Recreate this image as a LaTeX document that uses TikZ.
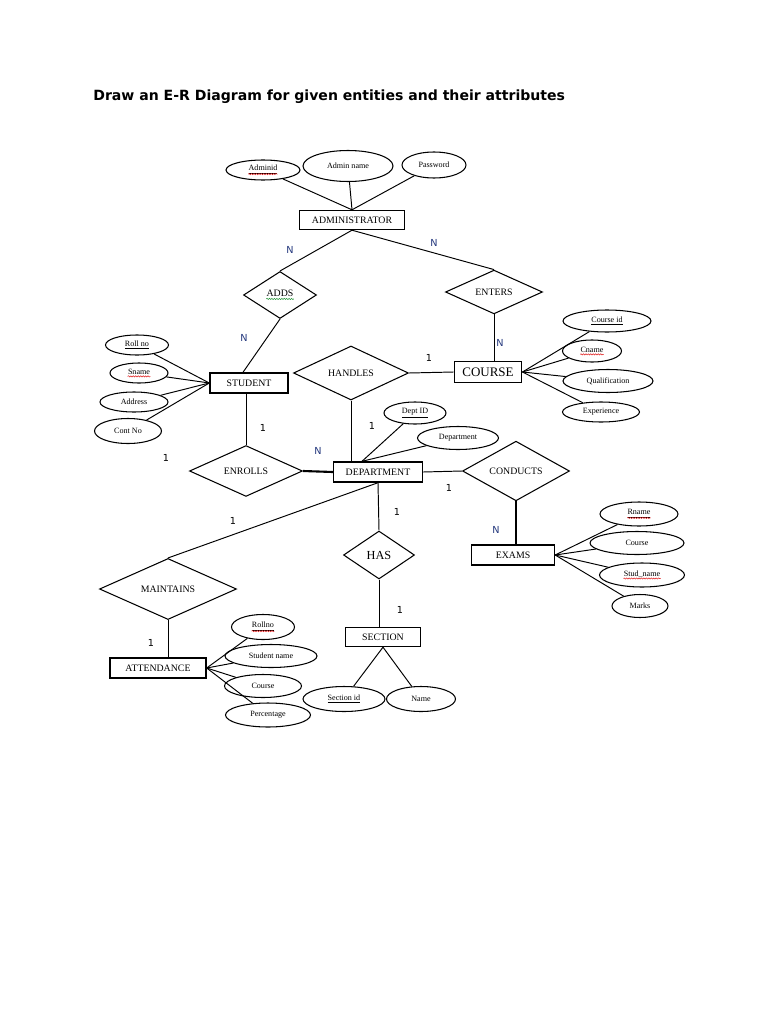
\documentclass[tikz,border=0pt]{standalone}
\usepackage{fontspec}
\setmainfont{Liberation Serif}
\newfontfamily\titlefont{DejaVu Sans}
\usetikzlibrary{shapes.geometric,decorations.pathmorphing}
\definecolor{CardBlue}{RGB}{35,55,125}
\definecolor{WaveRed}{RGB}{225,35,35}
\definecolor{WaveGreen}{RGB}{40,150,60}

\tikzset{
  entity/.style={draw, line width=0.8pt, inner sep=0pt, font=\fontsize{5.6}{6}\selectfont},
  relation/.style={draw, diamond, line width=0.6pt, inner sep=0pt, font=\fontsize{5.6}{6}\selectfont},
  attr/.style={draw, ellipse, line width=0.6pt, inner sep=0pt, font=\fontsize{4.6}{5}\selectfont},
  card/.style={font=\titlefont\fontsize{5.5}{6}\selectfont, inner sep=0pt},
  link/.style={line width=0.55pt},
  boldlink/.style={line width=1.2pt}
}
\newcommand{\wavy}[3][1.3pt]{\tikz[baseline=(w.base)]{\node[shape=rectangle, draw=none, fill=none, inner sep=0pt, minimum size=0pt] (w) {#3};
  \draw[#2, line width=0.3pt, decorate, decoration={snake, amplitude=0.35pt, segment length=1.4pt}]
    ([yshift=-#1]w.base west) -- ([yshift=-#1]w.base east);}}

\begin{document}
\begin{tikzpicture}[x=0.02cm, y=-0.02cm]
\fill[white] (0,0) rectangle (768,1024);
\useasboundingbox (0,0) rectangle (768,1024);

\node[anchor=base west, inner sep=0pt, font=\titlefont\bfseries\fontsize{8}{10}\selectfont] (title) at (93,101)
  {Draw an E-R Diagram for given entities and their attributes};

% entities
\node[entity, minimum width=2.1cm, minimum height=0.38cm] (admin) at (352,220) {ADMINISTRATOR};
\node[entity, minimum width=1.56cm, minimum height=0.40cm] (student) at (249,383) {STUDENT};
\node[entity, line width=1.1pt, minimum width=1.34cm, minimum height=0.42cm, font=\fontsize{7.4}{8}\selectfont] (course) at (488,372) {COURSE};
\node[entity, minimum width=1.78cm, minimum height=0.40cm] (dept) at (378,472) {DEPARTMENT};
\node[entity, minimum width=1.66cm, minimum height=0.40cm] (exams) at (513,555) {EXAMS};
\node[entity, minimum width=1.5cm, minimum height=0.38cm] (section) at (383,637) {SECTION};
\node[entity, minimum width=1.92cm, minimum height=0.40cm] (attend) at (158,668) {ATTENDANCE};

% relationships
\node[relation, minimum width=1.46cm, minimum height=0.94cm] (adds) at (280,295) {\wavy{WaveGreen}{ADDS}};
\node[relation, minimum width=1.94cm, minimum height=0.80cm] (enters) at (494,292) {ENTERS};
\node[relation, minimum width=2.30cm, minimum height=1.08cm] (handles) at (351,373) {HANDLES};
\node[relation, minimum width=2.26cm, minimum height=0.98cm] (enrolls) at (246,471) {ENROLLS};
\node[relation, minimum width=2.14cm, minimum height=0.96cm] (conducts) at (516,471) {CONDUCTS};
\node[relation, minimum width=1.42cm, minimum height=0.96cm, font=\fontsize{7}{8}\selectfont] (has) at (379,555) {HAS};
\node[relation, minimum width=2.74cm, minimum height=0.94cm] (maintains) at (168,589) {MAINTAINS};

% attributes
\node[attr, minimum width=1.48cm, minimum height=0.40cm] (adminid) at (263,170) {\wavy[2pt]{WaveRed}{\underline{Adminid}}};
\node[attr, minimum width=1.80cm, minimum height=0.62cm] (adminname) at (348,166) {Admin name};
\node[attr, minimum width=1.28cm, minimum height=0.52cm] (password) at (434,165) {Password};

\node[attr, minimum width=1.26cm, minimum height=0.40cm] (rollno) at (137,345) {\underline{Roll no}};
\node[attr, minimum width=1.16cm, minimum height=0.40cm] (sname) at (139,373) {\wavy{WaveRed}{Sname}};
\node[attr, minimum width=1.36cm, minimum height=0.40cm] (address) at (134,402) {Address};
\node[attr, minimum width=1.34cm, minimum height=0.50cm] (contno) at (128,431) {Cont No};

\node[attr, minimum width=1.76cm, minimum height=0.44cm] (courseid) at (607,321) {\underline{Course id}};
\node[attr, minimum width=1.18cm, minimum height=0.44cm] (cname) at (592,351) {\wavy{WaveRed}{Cname}};
\node[attr, minimum width=1.80cm, minimum height=0.46cm] (qualif) at (608,381) {Qualification};
\node[attr, minimum width=1.54cm, minimum height=0.40cm] (exper) at (601,412) {Experience};

\node[attr, minimum width=1.24cm, minimum height=0.44cm] (deptid) at (415,413) {\underline{Dept ID}};
\node[attr, minimum width=1.62cm, minimum height=0.46cm] (deptname) at (458,438) {Department};

\node[attr, minimum width=1.56cm, minimum height=0.48cm] (rname) at (639,514) {\wavy[2pt]{WaveRed}{\underline{Rname}}};
\node[attr, minimum width=1.88cm, minimum height=0.46cm] (ecourse) at (637,543) {Course};
\node[attr, minimum width=1.70cm, minimum height=0.48cm] (studname) at (642,575) {\wavy{WaveRed}{Stud\_name}};
\node[attr, minimum width=1.12cm, minimum height=0.46cm] (marks) at (640,606) {Marks};

\node[attr, minimum width=1.26cm, minimum height=0.50cm] (arollno) at (263,627) {\wavy[2pt]{WaveRed}{\underline{Rollno}}};
\node[attr, minimum width=1.84cm, minimum height=0.46cm] (astudname) at (271,656) {Student name};
\node[attr, minimum width=1.54cm, minimum height=0.46cm] (acourse) at (263,686) {Course};
\node[attr, minimum width=1.70cm, minimum height=0.48cm] (apercent) at (268,715) {Percentage};

\node[attr, minimum width=1.64cm, minimum height=0.50cm] (sectionid) at (344,699) {\underline{Section id}};
\node[attr, minimum width=1.38cm, minimum height=0.50cm] (secname) at (421,699) {Name};

% attribute links
\foreach \a in {adminid,adminname,password} \draw[link] (\a) -- (admin.north);
\foreach \a in {rollno,sname,address,contno} \draw[link] (\a) -- (student.west);
\foreach \a in {courseid,cname,qualif,exper} \draw[link] (\a) -- (course.east);
\foreach \a in {deptid,deptname} \draw[link] (\a) -- ([xshift=-0.32cm]dept.north);
\foreach \a in {rname,ecourse,studname,marks} \draw[link] (\a) -- (exams.east);
\foreach \a in {arollno,astudname,acourse,apercent} \draw[link] (\a) -- (attend.east);
\foreach \a in {sectionid,secname} \draw[link] (\a) -- (section.south);

% relationship links
\draw[link] (admin.south) -- (adds.north);
\draw[link] (admin.south) -- (enters.north);
\draw[link] (adds.south) -- ([xshift=-0.12cm]student.north);
\draw[link] (enters.south) -- (enters.south |- course.north);
\draw[link] (handles.east) -- (course.west);
\draw[link] (handles.south) -- (handles.south |- dept.north);
\draw[link] (enrolls.north |- student.south) -- (enrolls.north);
\draw[boldlink] (enrolls.east) -- (dept.west);
\draw[link] (dept.east) -- (conducts.west);
\draw[boldlink] (conducts.south) -- (conducts.south |- exams.north);
\draw[link] (dept.south) -- (maintains.north);
\draw[link] (dept.south) -- (has.north);
\draw[link] (has.south) -- (has.south |- section.north);
\draw[link] (maintains.south) -- (maintains.south |- attend.north);

% cardinalities
\node[card, text=CardBlue] (c1) at (290,250) {N};
\node[card, text=CardBlue] (c2) at (434,243) {N};
\node[card, text=CardBlue] (c3) at (244,338) {N};
\node[card, text=CardBlue] (c4) at (500,343) {N};
\node[card] (c5) at (429,358) {1};
\node[card] (c6) at (372,426) {1};
\node[card] (c7) at (263,428) {1};
\node[card, text=CardBlue] (c8) at (318,451) {N};
\node[card] (c9) at (166,458) {1};
\node[card] (c10) at (449,488) {1};
\node[card, text=CardBlue] (c11) at (496,530) {N};
\node[card] (c12) at (233,521) {1};
\node[card] (c13) at (397,512) {1};
\node[card] (c14) at (400,610) {1};
\node[card] (c15) at (151,643) {1};
\end{tikzpicture}
\end{document}
